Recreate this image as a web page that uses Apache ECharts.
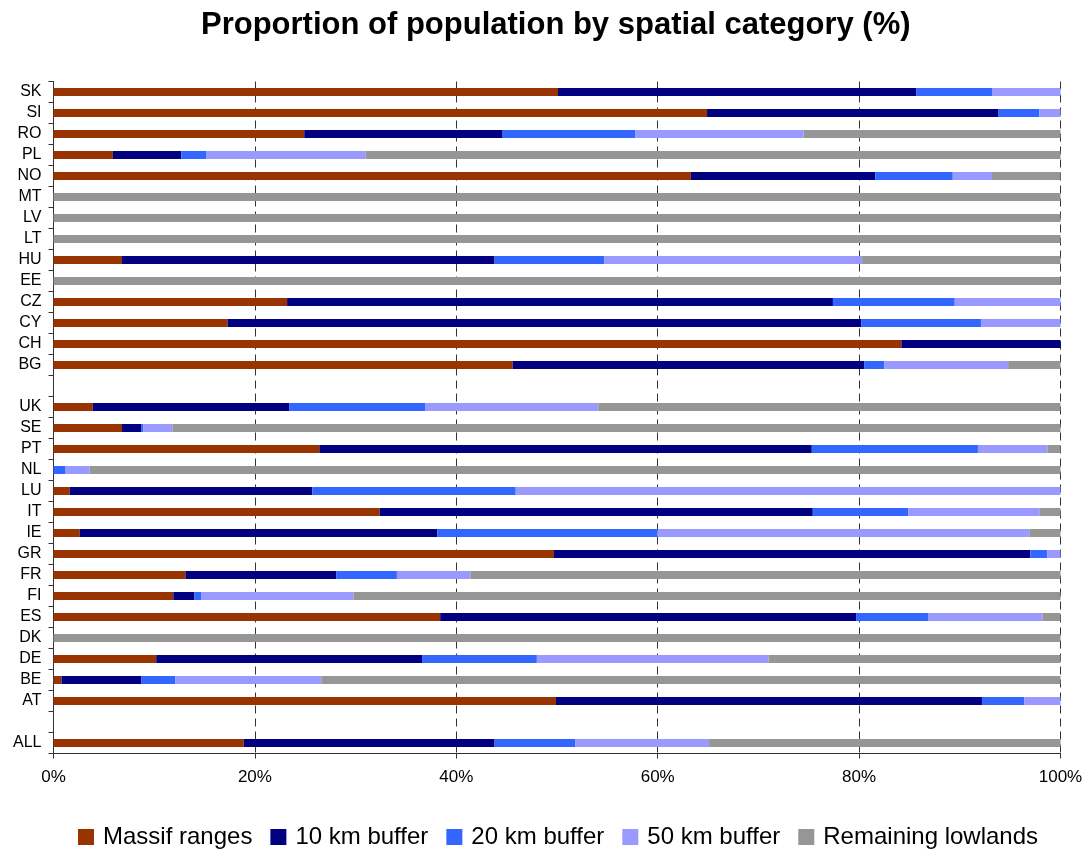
<!DOCTYPE html>
<html>
<head>
<meta charset="utf-8">
<script src="https://cdn.jsdelivr.net/npm/echarts@6/dist/echarts.min.js"></script>
<style>html,body{margin:0;padding:0;background:#fff}#c{width:1088px;height:850px}</style>
</head>
<body>
<div id="c"></div>
<script>
// Categories, top to bottom (blank rows are gaps in the original)
const categories = ['SK','SI','RO','PL','NO','MT','LV','LT','HU','EE','CZ','CY','CH','BG','',
  'UK','SE','PT','NL','LU','IT','IE','GR','FR','FI','ES','DK','DE','BE','AT',' ','ALL'];
const massifRanges = [50.1,64.9,24.9,5.9,63.3,0,0,0,6.8,0,23.2,17.3,84.2,45.6,null,
  3.9,6.8,26.4,0,1.6,32.4,2.6,49.7,13.1,11.9,38.4,0,10.2,0.8,49.9,null,18.9];
const buffer10 = [35.6,28.9,19.7,6.8,18.3,0,0,0,37.0,0,54.2,62.9,15.8,34.9,null,
  19.5,1.9,48.9,0,24.1,43.0,35.5,47.3,15.0,2.1,41.3,0,26.4,7.9,42.3,null,24.9];
const buffer20 = [7.5,4.1,13.2,2.5,7.7,0,0,0,10.9,0,12.1,11.9,0,2.0,null,
  13.5,0.2,16.5,1.2,20.2,9.5,21.9,1.7,6.0,0.7,7.2,0,11.4,3.4,4.2,null,8.0];
const buffer50 = [6.8,2.1,16.7,15.8,3.9,0,0,0,25.6,0,10.5,7.9,0,12.3,null,
  17.2,2.9,6.9,2.4,54.1,13.0,36.9,1.3,7.3,15.1,11.3,0,23.0,14.5,3.6,null,13.3];
const lowlands = [0,0,25.5,69.0,6.8,100,100,100,19.7,100,0,0,0,5.2,null,
  45.9,88.2,1.3,96.4,0,2.1,3.1,0,58.6,70.2,1.8,100,29.0,73.4,0,null,34.9];
const seriesNames = ['Massif ranges','10 km buffer','20 km buffer','50 km buffer','Remaining lowlands'];
const seriesColors = ['#993300','#000080','#3366FF','#9999FF','#969696'];
const seriesValues = [massifRanges, buffer10, buffer20, buffer50, lowlands];

const FONT = "'Liberation Sans', Arial, sans-serif";
const chart = echarts.init(document.getElementById('c'), null, {renderer:'canvas'});
chart.setOption({
  animation: false,
  backgroundColor: '#fff',
  title: {
    text: 'Proportion of population by spatial category (%)',
    left: 196, top: 5,
    textStyle: {fontFamily: FONT, fontSize: 31, fontWeight: 'bold', color: '#000'}
  },
  legend: {
    top: 820, left: 73,
    itemWidth: 16, itemHeight: 16, itemGap: 18,
    icon: 'rect',
    textStyle: {fontFamily: FONT, fontSize: 24, color: '#000', padding: [0, 0, 0, 4]},
    data: seriesNames
  },
  grid: {left: 53.5, right: 27.5, top: 81.5, height: 672, containLabel: false},
  xAxis: {
    type: 'value', min: 0, max: 100, interval: 20,
    axisLine: {show: true, lineStyle: {color: '#333', width: 1}},
    axisTick: {show: true, length: 5, lineStyle: {color: '#333'}},
    axisLabel: {formatter: '{value}%', fontFamily: FONT, fontSize: 17, color: '#000', margin: 15},
    splitLine: {show: true, lineStyle: {color: '#333', width: 1, type: [8, 5]}}
  },
  yAxis: {
    type: 'category', inverse: true, data: categories,
    axisLine: {show: true, lineStyle: {color: '#333', width: 1}},
    axisTick: {show: true, length: 5, interval: 0, lineStyle: {color: '#333'}},
    axisLabel: {fontFamily: FONT, fontSize: 16, color: '#000', margin: 12, interval: 0},
    splitLine: {show: false}
  },
  series: seriesNames.map((n, i) => ({
    name: n, type: 'bar', stack: 'total', barWidth: 8,
    itemStyle: {color: seriesColors[i]},
    data: seriesValues[i]
  }))
});
</script>
</body>
</html>
